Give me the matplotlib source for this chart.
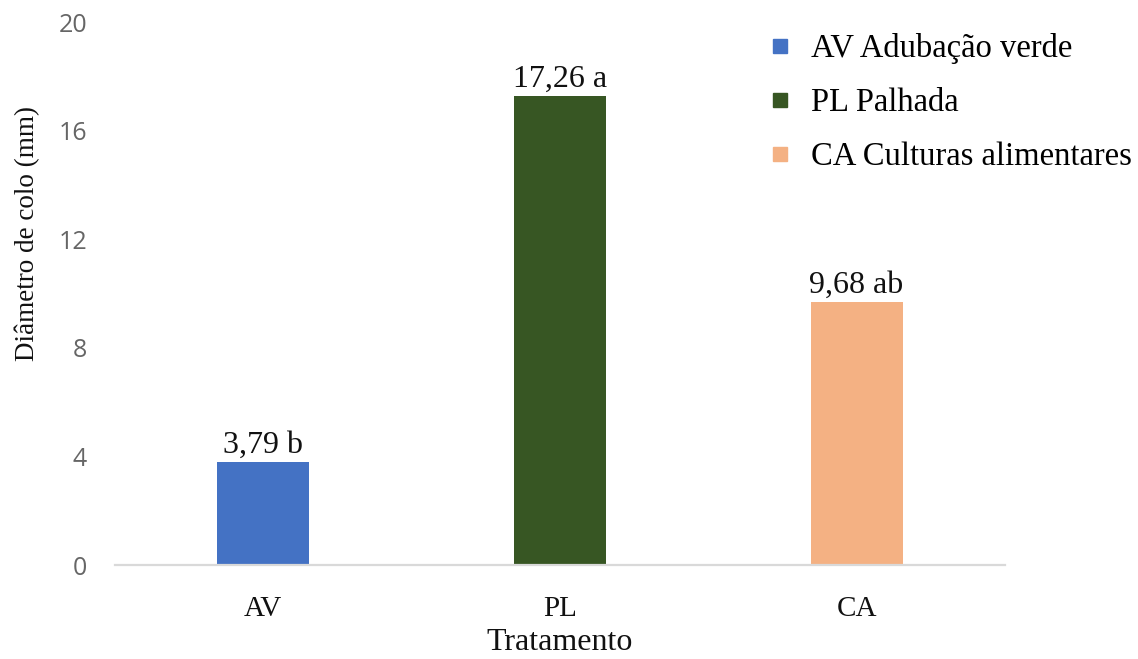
import matplotlib
matplotlib.use("Agg")
import matplotlib.pyplot as plt
from matplotlib.lines import Line2D

# Data
categories = ["AV", "PL", "CA"]
values = [3.79, 17.26, 9.68]
letters = ["b", "a", "ab"]
legend_labels = ["AV Adubação verde", "PL Palhada", "CA Culturas alimentares"]
colors = ["#4472C4", "#375623", "#F4B183"]
yticks = [0, 4, 8, 12, 16, 20]

serif = ["Liberation Serif", "DejaVu Serif"]
sans = ["Open Sans", "DejaVu Sans"]

fig = plt.figure(figsize=(11.38, 6.59), dpi=100)
ax = fig.add_axes([0.101, 0.1426, 0.782, 0.824])

x = range(len(categories))
bars = ax.bar(x, values, width=0.31, color=colors, zorder=2)

labels = [f"{v:.2f}".replace(".", ",") + f" {l}" for v, l in zip(values, letters)]
ax.bar_label(bars, labels=labels, padding=2, fontsize=23, family=serif, color="#111111")

ax.set_xlim(-0.5, len(categories) - 0.5)
ax.set_ylim(0, 20)
ax.set_yticks(yticks)
ax.set_yticklabels([str(t) for t in yticks], family=sans, fontsize=18, color="#666666")
ax.set_xticks(list(x))
ax.set_xticklabels(categories, family=serif, fontsize=21, color="#111111")
ax.tick_params(axis="both", length=0)
ax.tick_params(axis="y", pad=20)
ax.tick_params(axis="x", pad=22)

for side in ["top", "right", "left"]:
    ax.spines[side].set_visible(False)
ax.spines["bottom"].set_color("#d9d9d9")
ax.spines["bottom"].set_linewidth(1.6)

fig.text(27 / 1138, 1 - 233 / 659, "Diâmetro de colo (mm)", rotation=90,
         ha="center", va="center", family=serif, fontsize=19.5, color="#111111")
fig.text(ax.get_position().x0 + ax.get_position().width / 2, 1 - 643 / 659, "Tratamento",
         ha="center", va="center", family=serif, fontsize=23, color="#111111")

handles = [Line2D([0], [0], marker="s", linestyle="none", markersize=10,
                  markerfacecolor=c, markeredgecolor=c) for c in colors]
fig.legend(handles, legend_labels, loc="upper left", bbox_to_anchor=(0.675, 0.95),
           frameon=False, prop={"family": serif, "size": 23.5}, handlelength=0.75,
           handletextpad=0.55, labelspacing=0.72, borderpad=0, borderaxespad=0)

fig.savefig("out.png", dpi=100, facecolor="white")
